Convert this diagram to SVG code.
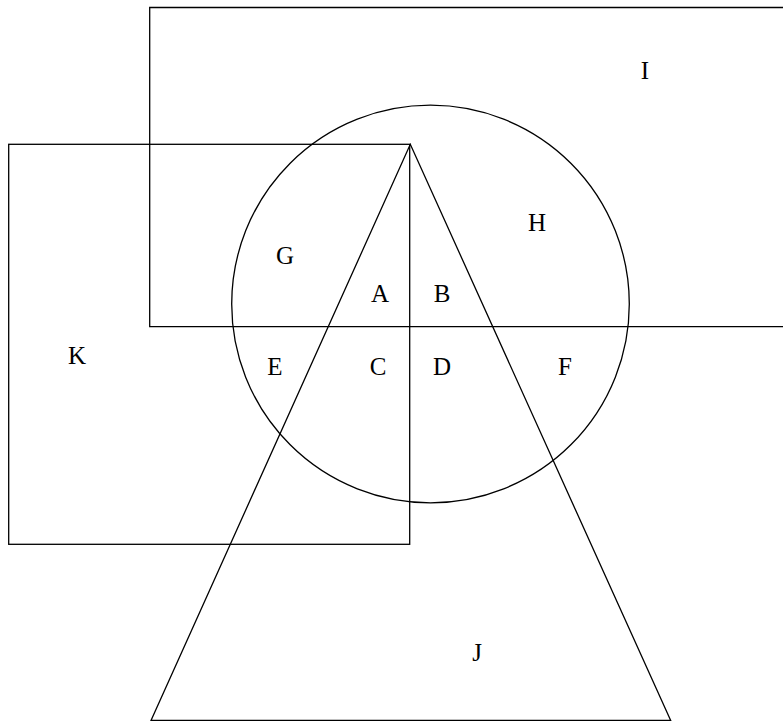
<svg xmlns="http://www.w3.org/2000/svg" width="783" height="721" viewBox="0 0 783 721">
<style>
.s{fill:none;stroke:#000;stroke-width:1.3}
text{font-family:"Liberation Serif","Times New Roman",serif;font-size:25px;fill:#000;text-anchor:middle}
</style>
<rect width="783" height="721" fill="#fff"/>
<g id="I"><path class="s" d="M790,326.7 H149.7 V7.5 H790"/><text x="645" y="79">I</text></g>
<g id="K"><rect class="s" x="8.7" y="144.3" width="401" height="400"/><text x="77" y="364">K</text></g>
<g id="circle"><circle class="s" cx="430.5" cy="304" r="198.8"/></g>
<g id="J"><path class="s" d="M151,720.5 L410.3,144.3 L670.7,720.5 Z"/><text x="477" y="661">J</text></g>
<g id="labels">
<text x="537" y="231">H</text>
<text x="285" y="264">G</text>
<text x="380" y="302">A</text>
<text x="442" y="302">B</text>
<text x="275" y="375">E</text>
<text x="378" y="375">C</text>
<text x="442" y="375">D</text>
<text x="565" y="375">F</text>
</g>
</svg>
